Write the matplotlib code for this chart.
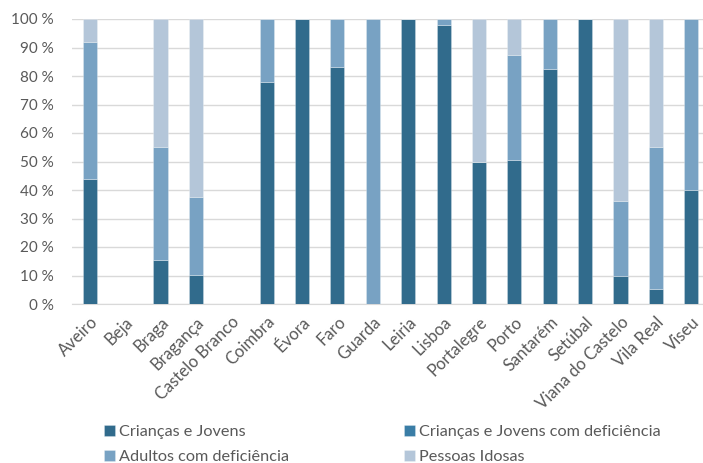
import numpy as np
import matplotlib.pyplot as plt
from matplotlib.ticker import FuncFormatter

plt.rcParams['font.family'] = ['Lato', 'DejaVu Sans']

distritos = ['Aveiro', 'Beja', 'Braga', 'Bragança', 'Castelo Branco', 'Coimbra',
             'Évora', 'Faro', 'Guarda', 'Leiria', 'Lisboa', 'Portalegre', 'Porto',
             'Santarém', 'Setúbal', 'Viana do Castelo', 'Vila Real', 'Viseu']

criancas = [44, 0, 15.5, 10.3, 0, 77.8, 100, 83.3, 0, 100, 98, 50, 50.6, 82.3, 100, 9.7, 5.4, 40]
criancas_def = [0] * 18
adultos_def = [48, 0, 39.6, 27.4, 0, 22.2, 0, 16.7, 100, 0, 2, 0, 36.8, 17.7, 0, 26.4, 49.7, 60]
idosos = [8, 0, 44.9, 62.3, 0, 0, 0, 0, 0, 0, 0, 50, 12.6, 0, 0, 63.9, 44.9, 0]

series = [
    ('Crianças e Jovens', criancas, '#316b8c'),
    ('Crianças e Jovens com deficiência', criancas_def, '#3a7da6'),
    ('Adultos com deficiência', adultos_def, '#78a2c3'),
    ('Pessoas Idosas', idosos, '#b4c6d9'),
]

fig = plt.figure(figsize=(7.03, 4.63), dpi=100)
ax = fig.add_axes([72 / 703, 1 - 304 / 463, (709 - 72) / 703, (304 - 19) / 463])

x = np.arange(len(distritos))
bottom = np.zeros(len(distritos))
handles = {}
for nome, vals, cor in series:
    vals = np.array(vals, dtype=float)
    b = ax.bar(x, vals, 0.4, bottom=bottom, color=cor, label=nome,
               edgecolor=(1, 1, 1, 0.35), linewidth=0.5, zorder=3)
    handles[nome] = b
    bottom += vals

ax.set_xlim(-0.5, len(distritos) - 0.5)
ax.set_ylim(0, 100)
ax.set_yticks(np.arange(0, 101, 10))
ax.yaxis.set_major_formatter(FuncFormatter(lambda v, p: f'{v:.0f} %'))
ax.grid(axis='y', color='#d9d9d9', linewidth=1, zorder=0)
for s in ['top', 'right', 'left']:
    ax.spines[s].set_visible(False)
ax.spines['bottom'].set_color('#d9d9d9')
ax.tick_params(axis='both', length=0, colors='#595959')
ax.tick_params(axis='y', pad=13, labelsize=11)
ax.tick_params(axis='x', pad=7, labelsize=12)
ax.set_xticks(x)
ax.set_xticklabels(distritos, rotation=45, ha='right', rotation_mode='anchor')

ordem = ['Crianças e Jovens', 'Adultos com deficiência',
         'Crianças e Jovens com deficiência', 'Pessoas Idosas']
leg = fig.legend([handles[n] for n in ordem], ordem, ncol=2, loc='upper left',
                 bbox_to_anchor=(104 / 703, 1 - 425 / 463), frameon=False,
                 fontsize=11.7, handlelength=0.65, handleheight=0.65,
                 handletextpad=0.3, columnspacing=7.05, labelspacing=0.68,
                 borderaxespad=0, borderpad=0)
for t in leg.get_texts():
    t.set_color('#595959')

fig.savefig('out.png', dpi=100)
